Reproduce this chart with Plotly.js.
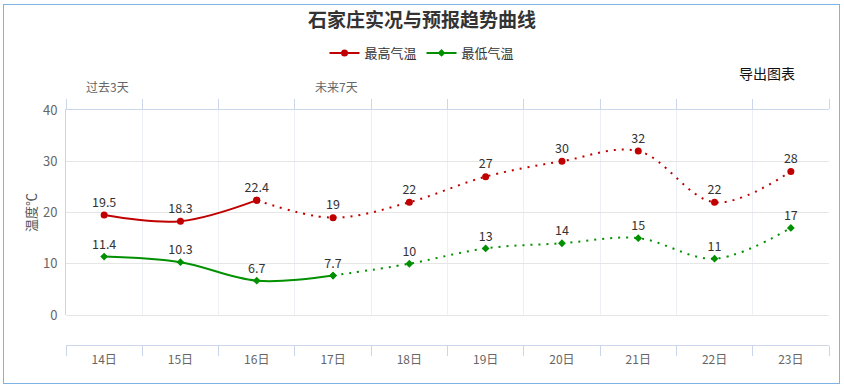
<!DOCTYPE html>
<html><head><meta charset="utf-8">
<script src="https://cdn.plot.ly/plotly-3.0.1.min.js"></script>
<style>
body{margin:0;background:#fff;}
#chart{position:absolute;left:0;top:0;width:844px;height:386px;}
#frame{position:absolute;left:3px;top:4px;width:835px;height:378px;border:1px solid #7fb2e5;pointer-events:none;}
</style>
</head><body>
<div id="chart"></div><div id="frame"></div>
<script>
const days = ['14日','15日','16日','17日','18日','19日','20日','21日','22日','23日'];
const highTemps = [19.5, 18.3, 22.4, 19, 22, 27, 30, 32, 22, 28];
const lowTemps = [11.4, 10.3, 6.7, 7.7, 10, 13, 14, 15, 11, 17];
const highObservedCount = 3;
const lowObservedCount = 4;
const periodLabels = ['过去3天', '未来7天'];
const periodDays = ['14日', '17日'];
const yTicks = [0, 10, 20, 30, 40];

const FONT = '"Noto Sans CJK SC", "Noto Sans", sans-serif';
const RED = '#c00000';
const GREEN = '#009000';

function segments(name, vals, observed, color, symbol, size) {
  const obsX = days.slice(0, observed), obsY = vals.slice(0, observed);
  const fcX = days.slice(observed - 1), fcY = vals.slice(observed - 1);
  const common = {
    type: 'scatter', mode: 'lines+markers+text', legendgroup: name,
    marker: {color: color, size: size, symbol: symbol},
    textposition: 'top center', cliponaxis: false,
    textfont: {family: FONT, size: 12.5, color: '#333'},
    hoverinfo: 'skip'
  };
  return [
    Object.assign({}, common, {
      name: name, x: obsX, y: obsY, text: obsY.map(String),
      line: {color: color, width: 2, shape: 'spline', smoothing: 1}
    }),
    Object.assign({}, common, {
      name: name, showlegend: false, x: fcX, y: fcY,
      text: fcY.map((v, i) => i === 0 ? '' : String(v)),
      line: {color: color, width: 2, shape: 'spline', smoothing: 1, dash: '2px,6px'}
    })
  ];
}

const traces = [
  ...segments('最高气温', highTemps, highObservedCount, RED, 'circle', 7),
  ...segments('最低气温', lowTemps, lowObservedCount, GREEN, 'diamond', 6),
  {type: 'scatter', mode: 'markers', x: days, y: highTemps, xaxis: 'x2', yaxis: 'y',
   marker: {opacity: 0}, showlegend: false, hoverinfo: 'skip'}
];

const pT = 110, pB = 345, pH = pB - pT, pL = 66, pR = 829, pW = pR - pL;
const py = (pageY) => (pB - pageY) / pH;
const px = (pageX) => (pageX - pL) / pW;

const annotations = periodLabels.map((t, i) => ({
  text: t, x: periodDays[i], xref: 'x', y: py(86), yref: 'paper',
  xanchor: 'center', yanchor: 'middle',
  xshift: 3, showarrow: false, font: {family: FONT, size: 12, color: '#666'}
}));
annotations.push({
  text: '导出图表', x: px(767), xref: 'paper', y: py(73), yref: 'paper',
  xanchor: 'center', yanchor: 'middle',
  showarrow: false, font: {family: FONT, size: 14, color: '#111'}
});
annotations.push({
  text: '温度℃', x: px(30), xref: 'paper', y: py(213), yref: 'paper',
  xanchor: 'center', yanchor: 'middle',
  textangle: -90, showarrow: false, font: {family: FONT, size: 13, color: '#555'}
});

const layout = {
  width: 844, height: 386,
  margin: {l: pL, r: 844 - pR, t: pT, b: 386 - pB, pad: 0},
  paper_bgcolor: '#fff', plot_bgcolor: '#fff',
  font: {family: FONT, size: 12, color: '#666'},
  title: {text: '石家庄实况与预报趋势曲线', font: {family: FONT, size: 19, color: '#333', weight: 'bold'},
          x: 0.5, xref: 'container', xanchor: 'center', y: 1 - 20 / 386, yref: 'container', yanchor: 'middle'},
  showlegend: true,
  legend: {orientation: 'h', xref: 'container', yref: 'container', x: 0.5, xanchor: 'center',
           y: 1 - 53 / 386, yanchor: 'middle', font: {family: FONT, size: 13, color: '#333'},
           itemwidth: 30, bgcolor: 'rgba(0,0,0,0)'},
  xaxis: {type: 'category', categoryorder: 'array', categoryarray: days,
          range: [-0.5, days.length - 0.5], anchor: 'free', position: 0,
          tickson: 'boundaries', ticks: 'outside', ticklen: 10, tickcolor: '#ccd6eb', tickwidth: 1,
          showline: true, linecolor: '#ccd6eb', linewidth: 1,
          showgrid: true, gridcolor: '#eceff4', gridwidth: 1,
          ticklabelstandoff: 4, tickfont: {family: FONT, size: 12, color: '#666'},
          fixedrange: true},
  xaxis2: {type: 'category', categoryorder: 'array', categoryarray: days,
           range: [-0.5, days.length - 0.5], overlaying: 'x', side: 'top', anchor: 'y',
           tickson: 'boundaries', ticks: 'outside', ticklen: 10, tickcolor: '#ccd6eb', tickwidth: 1,
           showline: true, linecolor: '#ccd6eb', linewidth: 1, showgrid: false,
           showticklabels: false, fixedrange: true},
  yaxis: {domain: [py(315), 1], range: [0, 40], tickvals: yTicks, ticktext: yTicks.map(String),
          showgrid: true, gridcolor: '#e6e6e6', gridwidth: 1,
          zeroline: true, zerolinecolor: '#e6e6e6', zerolinewidth: 1,
          showline: true, linecolor: '#ccd6eb', linewidth: 1, anchor: 'x',
          ticks: '', ticklabelstandoff: 5, tickfont: {family: FONT, size: 13, color: '#666'},
          fixedrange: true},
  annotations: annotations
};

Plotly.newPlot('chart', traces, layout, {displayModeBar: false, staticPlot: true});
</script>
</body></html>
